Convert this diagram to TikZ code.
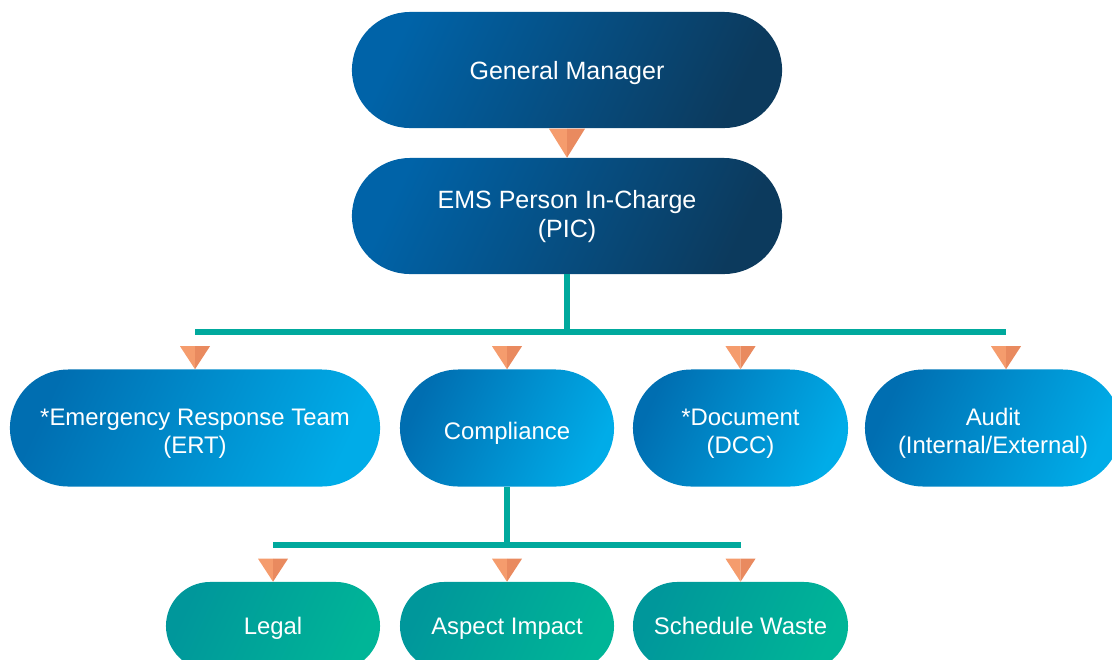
\documentclass[tikz,border=0pt]{standalone}
\usepackage{fontspec}
\setmainfont{Liberation Sans}
\usetikzlibrary{calc}
\definecolor{mgrtop}{HTML}{0063A8}
\definecolor{mgrbot}{HTML}{0C3A5D}
\definecolor{deptleft}{HTML}{006EB1}
\definecolor{deptright}{HTML}{00ACE8}
\definecolor{unitleft}{HTML}{00979B}
\definecolor{unitright}{HTML}{00B597}
\definecolor{linkteal}{HTML}{00A99D}
\definecolor{tipA}{HTML}{F59C6D}
\definecolor{tipB}{HTML}{E98A5F}

% struts that centre the capitals in the pills (height on first line, depth on last)
\newcommand{\gmtop}{\rule{0pt}{18.1pt}}
\newcommand{\pictop}{\rule{0pt}{14.5pt}}
\newcommand{\depttop}{\rule{0pt}{19.4pt}}
\newcommand{\unittop}{\rule{0pt}{16.2pt}}
\newcommand{\lowend}[1]{\rule[-#1]{0pt}{#1}}

% orange pointer: apex, half width, height
\newcommand{\droptip}[3]{%
  \fill[tipA] (#1) -- ++(-#2,-#3) -- ++(#2,0) -- cycle;
  \fill[tipB] (#1) -- ++(#2,-#3) -- ++(-#2,0) -- cycle;}

\begin{document}
\begin{tikzpicture}[
  x=0.025cm,y=-0.025cm,
  font=\fontsize{17}{20}\selectfont,
  pill/.style={align=center,text=white,inner sep=0pt},
  mgrbox/.style={pill,minimum width=10.75cm,minimum height=2.9cm,rounded corners=1.45cm,
    left color=mgrtop,right color=mgrbot,shading angle=65,font=\fontsize{17.8}{20.5}\selectfont},
  deptbox/.style={pill,minimum height=2.925cm,rounded corners=1.4625cm,
    left color=deptleft,right color=deptright,shading angle=65},
  unitbox/.style={pill,minimum height=2.2cm,rounded corners=1.1cm,
    left color=unitleft,right color=unitright,shading angle=65},
  bus/.style={draw=linkteal,line width=3.6pt}]
  \clip (0,0) rectangle (1112,659);

  \node[mgrbox] (gm) at (567,70) {\gmtop General Manager\lowend{4pt}};
  \node[mgrbox] (pic) at (567,216) {\pictop EMS Person In-Charge\\(PIC)\lowend{4pt}};

  \node[deptbox,minimum width=9.25cm] (ert) at (195,428) {\depttop*Emergency Response Team\\(ERT)\lowend{3pt}};
  \node[deptbox,minimum width=5.35cm] (comp) at (507,428) {\depttop Compliance\lowend{3pt}};
  \node[deptbox,minimum width=5.375cm] (dcc) at (740.5,428) {\depttop*Document\\(DCC)\lowend{3pt}};
  \node[deptbox,minimum width=6.4cm] (audit) at (993,428) {\depttop Audit\\(Internal/External)\lowend{3pt}};

  \node[unitbox,minimum width=5.35cm] (legal) at (273,626) {\unittop Legal\lowend{4pt}};
  \node[unitbox,minimum width=5.35cm] (aspect) at (507,626) {\unittop Aspect Impact\lowend{4pt}};
  \node[unitbox,minimum width=5.375cm] (waste) at (740.5,626) {\unittop Schedule Waste\lowend{4pt}};

  \coordinate (bus1) at (567,332);
  \coordinate (bus2) at (507,545);
  \coordinate (audittip) at ($(audit.north)+(13,0)$);

  % connectors
  \draw[bus] (pic.south) -- (bus1);
  \draw[bus] (ert.north |- bus1) -- (audittip |- bus1);
  \draw[bus] (comp.south) -- (bus2);
  \draw[bus] (legal.north |- bus2) -- (waste.north |- bus2);

  % pointers
  \droptip{pic.north}{18}{29}
  \droptip{ert.north}{15}{23}
  \droptip{comp.north}{15}{23}
  \droptip{dcc.north}{15}{23}
  \droptip{audittip}{15}{23}
  \droptip{legal.north}{15}{23}
  \droptip{aspect.north}{15}{23}
  \droptip{waste.north}{15}{23}
\end{tikzpicture}
\end{document}
